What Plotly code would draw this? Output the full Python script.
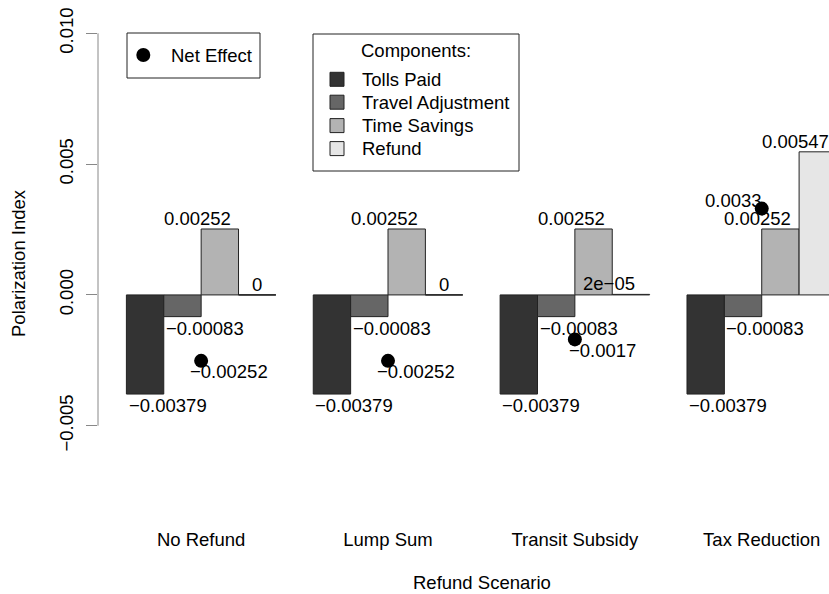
import plotly.graph_objects as go

# ---- data ----
scenarios = ["No Refund", "Lump Sum", "Transit Subsidy", "Tax Reduction"]
components = ["Tolls Paid", "Travel Adjustment", "Time Savings", "Refund"]
tolls_paid = [-0.00379, -0.00379, -0.00379, -0.00379]
travel_adjustment = [-0.00083, -0.00083, -0.00083, -0.00083]
time_savings = [0.00252, 0.00252, 0.00252, 0.00252]
refund = [0, 0, 0.00002, 0.00547]
net_effect = [-0.00252, -0.00252, -0.0017, 0.0033]
y_ticks = [-0.005, 0.0, 0.005, 0.010]
y_tick_labels = ["\u22120.005", "0.000", "0.005", "0.010"]

series = [tolls_paid, travel_adjustment, time_savings, refund]
colors = ["#333333", "#666666", "#B3B3B3", "#E6E6E6"]

FONT = "Liberation Sans, Arial, Helvetica, sans-serif"
FS = 18.5
W, H = 829, 594
ML, MR, MT, MB = 98, 0, 15, 83
PW, PH = W - ML - MR, H - MT - MB


def px(xp):
    return (xp - ML) / PW


def py(yp):
    return (H - MB - yp) / PH


def fmt(v):
    return str(v).replace("-", "\u2212")


def sgn(v):
    return (v > 0) - (v < 0)


font = dict(family=FONT, size=FS, color="black")
fig = go.Figure()
annotations = []
shapes = []

# R barplot(beside=TRUE) positions: groups of 4 bars with a one-bar gap
group_start = [1 + 5 * g for g in range(len(scenarios))]
zero_x, zero_y = [], []
for k, (name, vals, col) in enumerate(zip(components, series, colors)):
    xs = [s + k + 0.5 for s in group_start]
    fig.add_trace(go.Bar(
        x=xs, y=vals, width=1, name=name,
        marker=dict(color=col, line=dict(color="#222222", width=1)),
        showlegend=False,
    ))
    for x, v in zip(xs, vals):
        if v == 0:
            zero_x += [x - 0.5, x + 0.5, None]
            zero_y += [v, v, None]
        annotations.append(dict(
            x=x - sgn(v) * 0.6, y=v, xref="x", yref="y", text=fmt(v),
            showarrow=False, yanchor="middle",
            yshift=(-11.5 if v < 0 else 10.5), font=font,
        ))

fig.add_trace(go.Scatter(
    x=zero_x, y=zero_y, mode="lines", line=dict(color="#222222", width=1),
    showlegend=False, hoverinfo="skip",
))

centers = [s + 2 for s in group_start]
fig.add_trace(go.Scatter(
    x=centers, y=net_effect, mode="markers", name="Net Effect",
    marker=dict(color="black", size=14, symbol="circle"),
    showlegend=False,
))
for x, v in zip(centers, net_effect):
    annotations.append(dict(
        x=x - sgn(v) * 0.75, y=v, xref="x", yref="y", text=fmt(v),
        showarrow=False, yanchor="middle",
        yshift=(-11 if v < 0 else 8), font=font,
    ))

# ---- axis titles ----
annotations.append(dict(
    x=px(482), y=py(582), xref="paper", yref="paper", text="Refund Scenario",
    showarrow=False, xanchor="center", yanchor="middle", font=font,
))
annotations.append(dict(
    x=px(18), y=py(263), xref="paper", yref="paper", text="Polarization Index",
    showarrow=False, xanchor="center", yanchor="middle", textangle=-90, font=font,
))

# y axis line spanning the tick range (R style)
shapes.append(dict(
    type="line", xref="paper", yref="y", x0=0, x1=0,
    y0=min(y_ticks), y1=max(y_ticks), line=dict(color="#888888", width=1),
))

# ---- legend: Net Effect ----
shapes.append(dict(type="rect", xref="paper", yref="paper",
                   x0=px(127), x1=px(260), y0=py(33), y1=py(78),
                   line=dict(color="#222222", width=1), fillcolor="white", layer="above"))
shapes.append(dict(type="circle", xref="paper", yref="paper",
                   x0=px(143.3 - 7), x1=px(143.3 + 7), y0=py(55 - 7), y1=py(55 + 7),
                   line=dict(color="black", width=0), fillcolor="black", layer="above"))
annotations.append(dict(x=px(169), y=py(55), xref="paper", yref="paper",
                        text="Net Effect", showarrow=False,
                        xanchor="left", yanchor="middle", font=font))

# ---- legend: Components ----
shapes.append(dict(type="rect", xref="paper", yref="paper",
                   x0=px(313), x1=px(519), y0=py(34), y1=py(171),
                   line=dict(color="#222222", width=1), fillcolor="white", layer="above"))
annotations.append(dict(x=px(416), y=py(50.5), xref="paper", yref="paper",
                        text="Components:", showarrow=False,
                        xanchor="center", yanchor="middle", font=font))
item_y = [79.3, 102.2, 125.6, 148.6]
for name, col, yy in zip(components, colors, item_y):
    shapes.append(dict(type="rect", xref="paper", yref="paper",
                       x0=px(330), x1=px(344), y0=py(yy - 7), y1=py(yy + 7),
                       line=dict(color="#222222", width=1), fillcolor=col, layer="above"))
    annotations.append(dict(x=px(360), y=py(yy), xref="paper", yref="paper",
                            text=name, showarrow=False,
                            xanchor="left", yanchor="middle", font=font))

fig.update_layout(
    width=W, height=H,
    margin=dict(l=ML, r=MR, t=MT, b=MB),
    paper_bgcolor="white", plot_bgcolor="white",
    font=font,
    barmode="overlay",
    showlegend=False,
    xaxis=dict(
        range=[0.24, 19.8], tickvals=centers, ticktext=scenarios,
        ticks="", showline=False, showgrid=False, zeroline=False,
        ticklabelstandoff=15, tickfont=font,
    ),
    yaxis=dict(
        range=[-0.00826, 0.0107], tickvals=y_ticks, ticktext=y_tick_labels,
        tickangle=-90, ticks="outside", ticklen=11, tickcolor="#888888",
        showline=False, showgrid=False, zeroline=False,
        ticklabelstandoff=6, tickfont=font,
    ),
    shapes=shapes,
    annotations=annotations,
)

fig.write_html("out.html")
